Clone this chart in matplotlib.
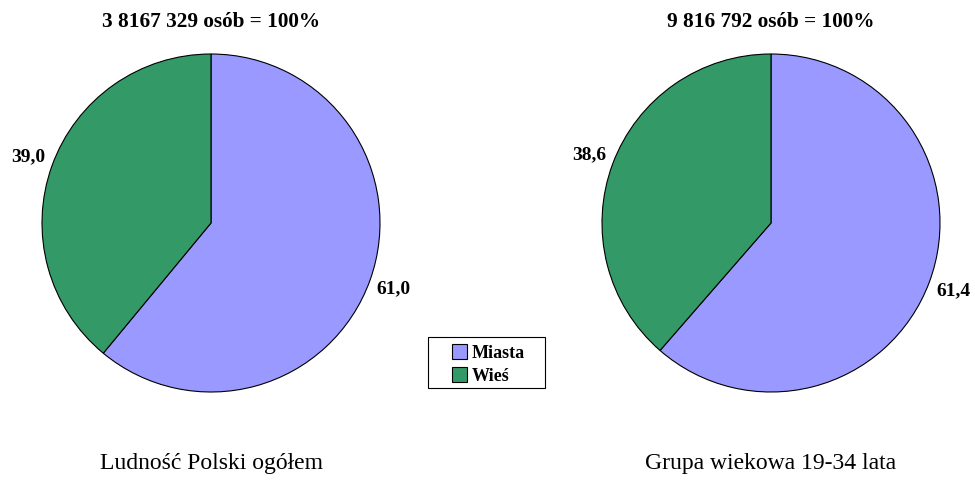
import matplotlib.pyplot as plt
from matplotlib.patches import Patch, Rectangle

plt.rcParams["font.family"] = ["Liberation Serif", "DejaVu Serif"]

categories = ["Miasta", "Wieś"]
colors = ["#9999FF", "#339966"]
ogolem = [61.0, 39.0]
mlodzi = [61.4, 38.6]
titles = ["3 8167 329 osób = 100%", "9 816 792 osób = 100%"]
captions = ["Ludność Polski ogółem", "Grupa wiekowa 19-34 lata"]

fig = plt.figure(figsize=(9.75, 5), dpi=100)

W, H = 975, 500
R = 169
centers = [(211, 223), (771, 223)]

for (cx, cy), values, title, caption in zip(centers, [ogolem, mlodzi], titles, captions):
    ax = fig.add_axes([(cx - R) / W, (H - cy - R) / H, 2 * R / W, 2 * R / H])
    labels = [f"{v:.1f}".replace(".", ",") for v in values]
    wedges, texts = ax.pie(
        values, colors=colors, startangle=90, counterclock=False,
        labels=labels, labeldistance=1.15,
        wedgeprops=dict(edgecolor="black", linewidth=0.8),
        textprops=dict(fontsize=14, fontweight="bold"),
    )
    for t in texts:
        t.set_ha("center")
        t.set_va("center")
    ax.set_xlim(-1, 1)
    ax.set_ylim(-1, 1)
    ax.set_aspect("equal")
    fig.text(cx / W, 1 - 22 / H, title, ha="center", va="center", fontsize=15.3, fontweight="bold")
    fig.text(cx / W, 1 - 463 / H, caption, ha="center", va="center", fontsize=17)

# legend box drawn separately so the padding can differ horizontally / vertically
fig.patches.append(Rectangle((428 / W, 1 - 388 / H), 117 / W, 51 / H, transform=fig.transFigure,
                             facecolor="white", edgecolor="black", linewidth=0.8, zorder=1))
handles = [Patch(facecolor=c, edgecolor="black", linewidth=0.8, label=l) for c, l in zip(colors, categories)]
leg = fig.legend(handles=handles, loc="center", bbox_to_anchor=(488 / W, 1 - 364.5 / H),
                 frameon=False, prop=dict(size=13, weight="bold"),
                 handlelength=0.85, handleheight=0.85, handletextpad=0.25,
                 borderpad=0.2, labelspacing=0.3)
leg.set_zorder(2)

fig.savefig("out.png", dpi=100, facecolor="white")
